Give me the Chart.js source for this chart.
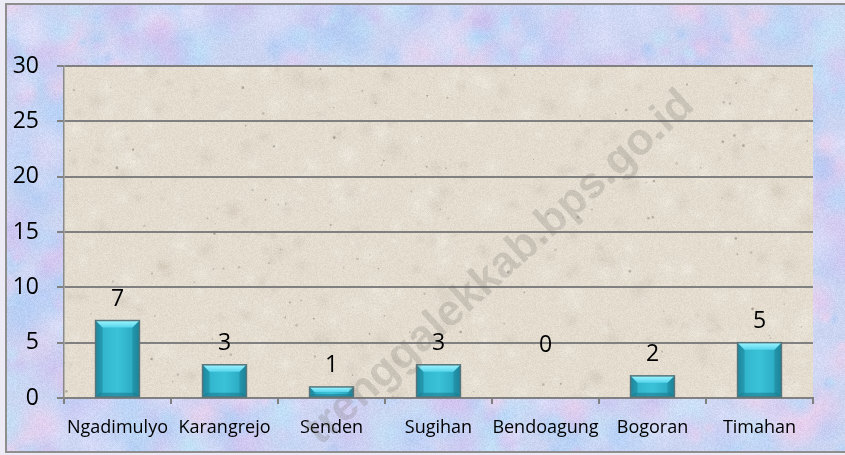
<!DOCTYPE html>
<html><head><meta charset="utf-8">
<script src="https://cdn.jsdelivr.net/npm/chart.js@4"></script>
<style>html,body{margin:0;padding:0;background:#fff;overflow:hidden}</style>
</head><body>
<canvas id="c" width="845" height="455"></canvas>
<script>
const categories = ['Ngadimulyo','Karangrejo','Senden','Sugihan','Bendoagung','Bogoran','Timahan'];
const values = [7, 3, 1, 3, 0, 2, 5];
const yMin = 0, yMax = 30, yStep = 5;
const watermarkText = 'trenggalekkab.bps.go.id';

function rng(seed){return function(){seed|=0;seed=seed+0x6D2B79F5|0;let t=Math.imul(seed^seed>>>15,1|seed);t=t+Math.imul(t^t>>>7,61|t)^t;return((t^t>>>14)>>>0)/4294967296;};}
function addNoise(x,w,h,r,amp){const d=x.getImageData(0,0,w,h);const a=d.data;for(let i=0;i<a.length;i+=4){const n=(r()-0.5)*2*amp;a[i]+=n;a[i+1]+=n;a[i+2]+=n;}x.putImageData(d,0,0);}
function makeOuter(w,h){const c=document.createElement('canvas');c.width=w;c.height=h;const x=c.getContext('2d');const r=rng(7);
  x.fillStyle='#cbd5f2';x.fillRect(0,0,w,h);
  const pal=['180,212,248','217,198,240','240,208,236','192,228,248','222,222,248','206,190,238','172,202,244'];
  for(let i=0;i<1200;i++){const px=r()*w,py=r()*h,rad=6+r()*26;const col=pal[Math.floor(r()*pal.length)];const g=x.createRadialGradient(px,py,0,px,py,rad);g.addColorStop(0,'rgba('+col+',0.65)');g.addColorStop(1,'rgba('+col+',0)');x.fillStyle=g;x.fillRect(px-rad,py-rad,rad*2,rad*2);}
  addNoise(x,w,h,r,8);return c;}
function makeBeige(w,h){const c=document.createElement('canvas');c.width=w;c.height=h;const x=c.getContext('2d');const r=rng(11);
  x.fillStyle='#e3dccf';x.fillRect(0,0,w,h);
  for(let i=0;i<600;i++){const px=r()*w,py=r()*h,rad=4+r()*14;const g=x.createRadialGradient(px,py,0,px,py,rad);const light=r()<0.5;g.addColorStop(0,light?'rgba(240,236,228,0.5)':'rgba(206,196,180,0.45)');g.addColorStop(1,'rgba(228,221,209,0)');x.fillStyle=g;x.fillRect(px-rad,py-rad,rad*2,rad*2);}
  for(let i=0;i<260;i++){const px=r()*w,py=r()*h,rad=0.4+r()*1.0;x.fillStyle='rgba(120,108,92,'+(0.2+r()*0.35)+')';x.beginPath();x.arc(px,py,rad,0,Math.PI*2);x.fill();}
  addNoise(x,w,h,r,7);return c;}
const outerTex = makeOuter(845,455);
const beigeTex = makeBeige(845,455);

const bgPlugin = {
  id:'bg',
  beforeDraw(chart){
    const ctx=chart.ctx, ca=chart.chartArea;
    ctx.save();
    ctx.fillStyle='#eceaf5';ctx.fillRect(0,0,chart.width,chart.height);
    ctx.drawImage(outerTex,6,4,845-6,452-4,6,4,845-6,452-4);
    ctx.beginPath();ctx.rect(ca.left,ca.top,ca.right-ca.left,ca.bottom-ca.top);ctx.clip();
    ctx.drawImage(beigeTex,0,0);
    ctx.restore();
    ctx.save();ctx.strokeStyle='#8e8e8e';ctx.lineWidth=2;ctx.strokeRect(6,4,845,448);ctx.restore();
  },
  afterDatasetsDraw(chart){
    const ctx=chart.ctx;const meta=chart.getDatasetMeta(0);
    ctx.save();
    meta.data.forEach((el,i)=>{
      const p=el.getProps(['x','y','width','base'],true);
      const l=p.x-p.width/2, rgt=p.x+p.width/2, t=p.y, b=p.base, h=b-t;
      if(h>0.5){
        const bv=Math.min(7,h/2);
        const g=ctx.createLinearGradient(l,0,rgt,0);
        g.addColorStop(0,'#2194ab');g.addColorStop(0.18,'#32b6ce');g.addColorStop(0.5,'#3ac2d9');g.addColorStop(0.82,'#2eaec6');g.addColorStop(1,'#1d8ba1');
        ctx.fillStyle=g;ctx.fillRect(l,t,rgt-l,h);
        ctx.fillStyle='rgba(20,110,130,0.5)';
        ctx.beginPath();ctx.moveTo(l,b);ctx.lineTo(rgt,b);ctx.lineTo(rgt-bv*0.6,b-bv*0.6);ctx.lineTo(l+bv*0.6,b-bv*0.6);ctx.closePath();ctx.fill();
        ctx.fillStyle='rgba(25,120,140,0.4)';
        ctx.beginPath();ctx.moveTo(l,t);ctx.lineTo(l+bv,t+bv);ctx.lineTo(l+bv,b-bv*0.6);ctx.lineTo(l,b);ctx.closePath();ctx.fill();
        ctx.beginPath();ctx.moveTo(rgt,t);ctx.lineTo(rgt-bv,t+bv);ctx.lineTo(rgt-bv,b-bv*0.6);ctx.lineTo(rgt,b);ctx.closePath();ctx.fill();
        const tg=ctx.createLinearGradient(0,t,0,t+bv);tg.addColorStop(0,'#a0f6ff');tg.addColorStop(1,'#55d4ec');
        ctx.fillStyle=tg;
        ctx.beginPath();ctx.moveTo(l,t);ctx.lineTo(rgt,t);ctx.lineTo(rgt-bv,t+bv);ctx.lineTo(l+bv,t+bv);ctx.closePath();ctx.fill();
        ctx.strokeStyle='#56747b';ctx.lineWidth=1.5;ctx.strokeRect(l,t,rgt-l,h);
      }
      const v=values[i];
      ctx.fillStyle='#000';ctx.font='23px "Open Sans"';ctx.textAlign='center';ctx.textBaseline='alphabetic';
      const ly = v===0 ? p.y-46 : p.y-15;
      ctx.fillText(String(v),p.x,ly);
    });
    ctx.restore();
  },
  afterDraw(chart){
    const ctx=chart.ctx;
    ctx.save();
    ctx.translate(500,268);ctx.rotate(-42*Math.PI/180);
    ctx.font='bold 44px "Liberation Sans"';ctx.textAlign='center';ctx.textBaseline='middle';
    ctx.fillStyle='rgba(110,105,100,0.22)';
    ctx.fillText(watermarkText,0,0);
    ctx.restore();
  }
};

new Chart(document.getElementById('c'),{
  type:'bar',
  data:{labels:categories,datasets:[{data:values,backgroundColor:'rgba(0,0,0,0)',borderWidth:0,categoryPercentage:1,barPercentage:0.41}]},
  options:{
    responsive:false,animation:false,devicePixelRatio:1,
    layout:{padding:{top:66,right:32,left:0,bottom:0}},
    plugins:{legend:{display:false},tooltip:{enabled:false}},
    scales:{
      x:{
        grid:{offset:true,drawOnChartArea:false,drawTicks:true,tickLength:6,color:'#808080',lineWidth:2},
        border:{display:true,color:'#808080',width:2},
        ticks:{color:'#000',font:{family:'"Open Sans"',size:18},padding:13,maxRotation:0,autoSkip:false},
        afterFit(s){s.height=57;}
      },
      y:{
        min:yMin,max:yMax,
        ticks:{stepSize:yStep,color:'#000',font:{family:'"Open Sans"',size:23},padding:18},
        grid:{color:'#808080',lineWidth:2,tickLength:7,drawTicks:true},
        border:{display:true,color:'#8a8a8a',width:1.5},
        afterFit(s){s.width=64;}
      }
    }
  },
  plugins:[bgPlugin]
});
</script>
</body></html>
